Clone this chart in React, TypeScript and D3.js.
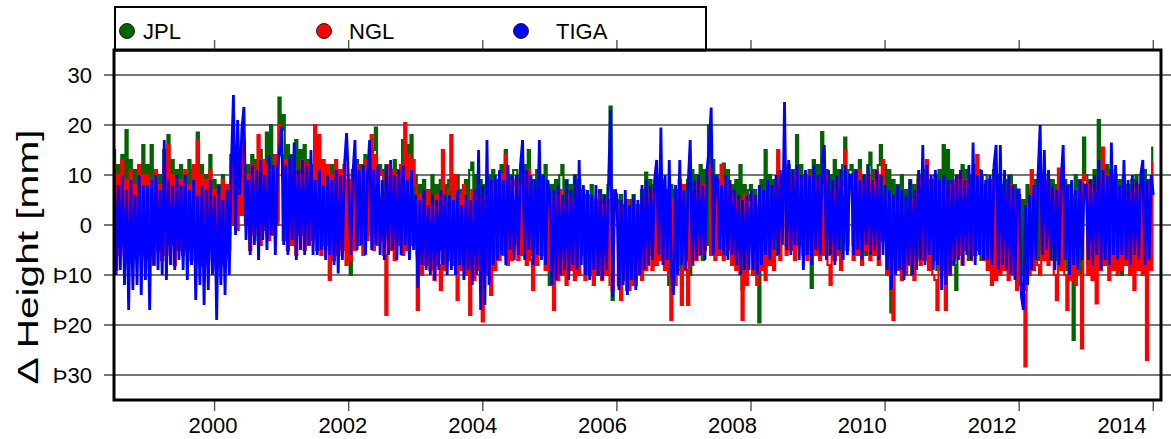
import React from "react";
import * as d3 from "d3";

// Values read every 1/32 yr from 1998.50 to 2014.00 (alternating upper/lower excursions of the dense series)
const START_YEAR = 1998.5;
const STEP_YEAR = 1 / 32;

const jpl = [
  15, -3, 12, -1, 14, -4, 19, -2, 13, -3, 11, -1, 12, -5, 16, -2,
  12, -2, 16, -3, 11, -1, 10, -4, 15, -2, 18, -3, 13, -2, 11, -1,
  12, -2, 10, -3, 13, -1, 11, -2, 18.5, -3, 12, -1, 10, -2, 14, -3,
  9, -5, 8, -4, 10, -3, 7, -2, 14, 3, 16, 2, 15, 4, 13, 1,
  12, -2, 14, 0, 13, -3, 15, 1, 12, 18.5, 2, 20, 3, 14, 1, 25.5,
  19, 22, 3, 16, 1, 14, -1, 17, 2, 15, 0, 16, -2, 13, 1, 12,
  10, -3, 12, -2, 11, -4, 9, -5, 12, -3, 10, -6, 11, -4, 9, -5,
  8, -10, 11, -2, 13, -1, 12, -3, 14, -2, 13, -1, 15, 19.5, -2, 12,
  11, -3, 12, -2, 10, -4, 13, -3, 11, -2, 17, -4, 16, -3, 18, -2,
  10, -6, 8, -5, 9, -7, 7, -4, 10, -6, 8, -5, 9, -7, 8, -4,
  9, -7, 8, -6, 10, -8, 7, -5, 9, -6, 11, 12.5, -7, 10, -5, 9,
  -5, 8, -6, 10, -4, 11, -7, 9, -5, 12, -3, 15, -6, 10, -4, 11,
  11, -4, 10, -5, 12, -3, 15, -6, 9, -4, 11, -5, 10, -3, 12, -7,
  -12, 8, -6, 9, -7, 10, 12, -8, 9, -6, 8, -7, 10, -5, 9, -6,
  7, -8, 6, -9, 8, -7, 5, -10, 7, -8, 6, -9, 8, 23.7, -15, 6,
  5, -12, 6, -10, 4, -13, 5, -11, 6, -12, 4, -10, 7, -9, 10.5, -8,
  9, -6, 8, -7, 10, -5, 9, -8, 7, -12, 8, -9, 7, -8, 9, -10,
  8, -7, 9, -10, 11, -6, 10, -5, 12, -7, 11, -4, 20, -6, 13, -5,
  10, -5, 9, 12.3, -6, 11, -4, 8, -7, 9, -6, 12, -13, 8, -9, 7,
  8, -9, 7, -8, -19.5, 9, -6, 15, -7, 10, -5, 9, -6, 11, -4, 10,
  10, -4, 12, -3, 11, -5, 18, -4, 12, -3, 10, -5, 11, -12.6, 13, -4,
  12, -5, 18.6, -4, 11, -6, 10, -5, 13, -3, 11, -6, 12, 17.5, -4, 11,
  12, -4, 11, -5, 13, -3, 10, -6, 12, 14.5, -4, 11, -5, 12, 16, -3,
  12, -8, 11, -17.5, 9, -7, 8, -9, 10, -8, 7, -6, 9, -10, 8, -7,
  10, -6, 11, -5, 12, -8, 9, -7, 10, -9, 11, -8, 16, -10, 15, -8,
  11, -8, -13, 10, -6, 12, -5, 11, -7, 10, -6, 12, -5, 11, -7, 10,
  10, -6, 9, -7, 11, -8, 10, -9, 8, -7, 9, -8, 10, -9, 8, -10,
  6, -10, 5, -13, 8, -8, 7, -6, 9, -7, 11, -5, 10, -6, 9, -7,
  9, -7, 8, -8, 10, -6, 9, -9, 8, -7, -23, 10, -8, 9, -10, 17.5,
  10, -8, 9, -7, 11, -9, 21, -6, 10, -8, 12, -7, 11, -9, 10, -6,
  9, -10, 10, -7, 8, -8, 9, -6, 10, -7, 8, -9, 11, -6, 9, -7, 15.5,
];

const ngl = [
  12, -9, 10, -6, 13, -4, 9, -7, 11, -5, 8, -3, 12, -6, 10, -4,
  10, -6, 9, -8, 11, -5, 8, -7, 12, -6, 16, -4, 10, -8, 9, -5,
  9, -6, 11, -5, 8, -7, 12, -4, 17, -8, 10, -6, 9, -7, 11, -5,
  7, -9, 6, -8, 9, -7, 8, -5, 12, 0, 15, -1, 13, 2, 17, 0,
  10, -5, 12, -2, 11, 18, -4, 13, -1, 12, -3, 11, -2, 14, 0, 20,
  14, -3, 13, -5, 11, -4, 12, -6, 10, -2, 13, -5, 12, -4, 9, -3,
  20, -5, 18, -6, 13, -4, 12, -11, 10, -7, 13, -6, 11, -5, 12, -8,
  9, -7, 10, -5, 12, -4, 11, -6, 13, -3, 12, 18, -5, 14, -4, 11,
  10, -6, -18, 12, -5, 11, -7, 10, -4, 12, -6, 20.4, -5, 14, -4, 13,
  8, -17, 6, -10, 5, -8, 7, -9, 4, -11, 6, -8, -13, 15, -9, 5,
  7, 18, -8, 10, -15, 6, -9, 8, -10, 5, -18, 7, -11, 6, -9, 5,
  -19.3, 6, -10, 7, -14, 8, -9, 6, -7, 10, -6, 14, -8, 9, -7, 8,
  9, -7, 8, -6, 10, -8, 11, -7, -13, 6, -8, 9, -6, 8, -9, 7,
  -9, 5, -17, 6, -11, 7, -10, 4, -12, 6, -9, 5, -11, 7, -10, 6,
  5, -11, 6, -10, 4, -12, 5, -9, 6, -11, 4, -10, 5, -12, -13, 7,
  4, -12, -15, 3, -11, 5, -13, 2, -12, 4, -10, 3, -11, 5, -9, 4,
  7, -9, 6, -8, 8, -7, 5, -9, 6, -10, -19, 5, -12, 6, -9, -16,
  8, -9, -16, 7, -8, 6, -7, 9, -6, 8, -5, 10, 12, -6, 9, -7,
  8, -6, 12, -7, 9, -5, 8, -8, 6, -9, 5, -10, -19, 6, -12, 5,
  6, -10, 5, -12, 4, -9, 6, -11, 7, -8, 5, -9, 8, 15, -7, 9,
  9, -6, 8, -5, 10, -7, 11, -4, 9, -6, 8, -7, 10, -5, 9, -6,
  9, -7, 8, -6, 10, -8, -12, 7, -7, 9, -6, -9, 8, 15, -5, 10,
  10, -7, 9, -6, 11, -8, 8, -5, 10, -7, 9, -6, 11, -8, 10, 13,
  5, -10, 6, -13, -19, 4, -9, 5, -11, 3, -10, 4, -8, 5, -11, 6,
  9, -8, 10, -7, 13, -9, 8, -10, -11, -17, 7, -9, 8, -17, 6, -10,
  8, -7, 9, -6, 10, -8, 9, -5, 8, -7, 9, -6, 14, -5, 10, -7,
  8, -9, 7, -12, 9, -11, 8, -10, 7, -9, 6, -11, 8, -10, 5, -13,
  5, -12, -14, -28.3, 4, -10, 11, -9, 7, -8, -10, 8, -7, 9, -8, 7,
  7, -10, -15, 11.3, -9, 8, -10, -17, 7, -11, 6, -12, 7, -10, -24.7, 10,
  9, -10, 8, -11, 7, -15.7, 9, -9, 15.5, -8, 10, -11, 8, -9, 9, -10,
  7, -9, 10, -8, 6, -10, 7, -13, 8, -9, 6, -10, 7, -27, 8, -9, 12.5,
];

const tiga = [
  11, -10, 8, -9, 10, -12, 7, -17, 9, -13, 6, -12, 10, -14, 8, -11,
  8, -17, 9, -8, 10, -9, 7, -10, 17, -11, 9, -8, 8, -9, 10, -7,
  8, -9, 10, -11, 7, -8, 9, -15, 6, -12, 8, -16, 7, -13, 9, -10,
  6, -19, 8, -12, 5, -14, 7, -10, 12, 26, -2, 21, 6, 19, 23.6, -3,
  9, -6, 12, -4, 11, -7, 13, -3, 10, -5, 14, -2, 12, -6, 11, 15,
  19.5, -4, 12, -6, 14, -3, 16.5, -7, 11, -5, 13, -6, 12, -4, 15, -6,
  9, -6, 11, -5, 8, -7, 10, -6, 9, -8, 11, -9.7, 10, -7, 12, 18.4,
  8, -6, 10, 17, -5, 11, -4, 12, -6, 10, 17, -5, 11, -4, 12, -6,
  9, -7, 12, -6, 13, -5, 10, -7, 11, -6, 12, -4, 9, -7, 11, -5,
  6, -12.6, 5, -8, 7, -9, 4, -10, 6, -11, 5, -9, 7, -8, 6, -10,
  6, -9, 5, -10, 7, -8, 4, -11, 6, -9, 5, -12, 7, -10, 15, -17,
  8, -16, 17, -12, 9, -8, 10, -7, 11, -6, 9, -8, 12, -5, 10, -7,
  10, -6, 12, 17, -7, 11, -5, 10, -8, 9, -6, 17, -7, 10, -8, 9,
  6, -12, 7, -11, 8, -10, 6, -9, 9, -11, 7, -8, 10, -9, 13, -8,
  8, -10, 7, -11, 6, -9, 8, -10, 7, -11, 6, -9, 8, 23, -14.5, 7,
  6, -13, 5, -12, 7, -14, 4, -11, 6, -13, 5, -10, 8, -9, 9, -8,
  8, -7, 9, 13, -6, 19.5, -8, 10, -7, 13, -9, -14, 8, -10, 13, -8,
  7, -9, 8, 17, -8, 9, -7, 10, -6, 8, -7, 11, 15, 23.5, -6, 10,
  9, -5, 8, -6, 10, -7, 9, -6, 7, -8, 6, -10, 5, -9, 6, -9,
  7, -9, 6, -10, 8, -8, 7, -6, 9, -7, 8, -5, 10, -6, 11, -4,
  24.6, -5, 13, -6, 11, -4, 12, -7, 10, -9, 11, -6, 10, -8, 12, -5,
  10, -6, 12, 16, -7, 11, -6, 9, -8, 10, -5, 11, -7, 12, -6, 10,
  10, -6, 11, -5, 9, -7, 10, -4, 12, -6, 9, -5, 11, -7, 10, -6,
  8, -9, 7, -13, 6, -10, 8, -9, 7, -11, 6, -8, 9, -10, 7, -9,
  11, -7, 16, -8, 12, -6, 10, -9, 11, -8, 9, -13, 10, -12, 9, -10,
  9, -8, 10, -7, 11, -8, 9, -6, 12, -7, 16.5, -8, 10, -6, 11, -7,
  9, -7, 10, -8, 12, 16, -9, 16, -8, 11, -9, 10, -10, 8, -11, 7,
  7, -14, -17, 4, -12, 6, -9, 8, -7, 10, 20, -6, 15, -5, 11, -7,
  8, -9, 7, -8, 9, 16, -7, 8, -10, 9, -8, 7, -9, 9, -7, 8,
  8, -7, 9, -8, 10, -6, 13, -9, 11, -7, 10, -8, 16.5, -6, 12, -7,
  8, -6, 13, -7, 9, -8, 10, -6, 9, -7, 10, 13, -8, 9, -7, 10, 6,
];

const seriesNames = ["JPL", "NGL", "TIGA"];
const seriesColors = ["#006400", "#ff0000", "#0000ff"];
const yTicks = [30, 20, 10, 0, -10, -20, -30];
const yTickLabels = ["30", "20", "10", "0", "\u00de10", "\u00de20", "\u00de30"];
const xTicks = [2000, 2002, 2004, 2006, 2008, 2010, 2012, 2014];
const yLabel = "\u0394 Height [mm]";

const W = 1171;
const H = 439;
const PL = 114;
const PR = 1161;
const PT = 50;
const PB = 400;

export default function App() {
  const x = d3.scaleLinear().domain([1998.5, 2014.115]).range([PL, PR]);
  // tick labels in the original drift slightly left of their ticks
  const xLabel = d3.scaleLinear().domain([2000, 2014]).range([213, 1122]);
  const y = d3.scaleLinear().domain([-35, 35]).range([PB, PT]);
  const allSeries = [jpl, ngl, tiga];
  const xAt = (_: number, i: number) => x(START_YEAR + i * STEP_YEAR);
  // daily solutions (JPL, NGL) render as a solid band; TIGA as a zig-zag line
  const bandLine = d3.line<number>().x(xAt).y((d) => y(d)).curve(d3.curveStep);
  const zigLine = d3.line<number>().x(xAt).y((d) => y(d));
  const gens = [bandLine, bandLine, zigLine];
  const widths = [2.2, 2.2, 2.8];

  const font = "'Liberation Sans', Arial, Helvetica, sans-serif";
  const legendX = [127, 324, 521];
  const legendTextX = [143, 349, 556];

  return (
    <svg
      width={W}
      height={H}
      style={{ position: "absolute", left: 0, top: 0, background: "#fff" }}
      fontFamily={font}
    >
      <defs>
        <clipPath id="plotclip">
          <rect x={PL} y={PT} width={PR - PL} height={PB - PT} />
        </clipPath>
      </defs>
      <rect x={0} y={0} width={W} height={H} fill="#fff" />

      {yTicks.map((t) => (
        <line
          key={"g" + t}
          x1={104}
          x2={W}
          y1={y(t)}
          y2={y(t)}
          stroke="#4a4a4a"
          strokeWidth={1.4}
        />
      ))}

      <g clipPath="url(#plotclip)">
        {allSeries.map((s, k) => (
          <path
            key={seriesNames[k]}
            d={gens[k](s) || ""}
            fill="none"
            stroke={seriesColors[k]}
            strokeWidth={widths[k]}
            strokeLinejoin="miter"
          />
        ))}
      </g>

      {xTicks.map((t) => (
        <g key={"x" + t}>
          <line x1={x(t)} x2={x(t)} y1={PB} y2={PB + 11} stroke="#555" strokeWidth={1.4} />
          <line x1={x(t)} x2={x(t)} y1={PT - 10} y2={PT} stroke="#555" strokeWidth={1.4} />
          <text x={xLabel(t)} y={433} fontSize={22} textAnchor="middle" fill="#000">
            {t}
          </text>
        </g>
      ))}

      {yTicks.map((t, i) => (
        <text
          key={"yl" + t}
          x={92}
          y={y(t) + 8}
          fontSize={22}
          textAnchor="end"
          fill="#000"
        >
          {yTickLabels[i]}
        </text>
      ))}

      <rect
        x={PL}
        y={PT}
        width={PR - PL}
        height={PB - PT}
        fill="none"
        stroke="#000"
        strokeWidth={3}
      />

      <text
        transform={`translate(38, 257) rotate(-90)`}
        fontSize={29}
        textAnchor="middle"
        fill="#000"
        textLength={255}
        lengthAdjust="spacingAndGlyphs"
      >
        {yLabel}
      </text>

      <rect x={115} y={7} width={591} height={43} fill="#fff" stroke="#000" strokeWidth={2} />
      {xTicks
        .filter((t) => x(t) > 115 && x(t) < 706)
        .map((t) => (
          <line key={"lt" + t} x1={x(t)} x2={x(t)} y1={PT - 10} y2={PT} stroke="#555" strokeWidth={1.4} />
        ))}
      <line x1={115} x2={706} y1={PT} y2={PT} stroke="#000" strokeWidth={3} />
      {seriesNames.map((n, k) => (
        <g key={"lg" + n}>
          <circle cx={legendX[k]} cy={31} r={7.5} fill={seriesColors[k]} stroke="#222" strokeWidth={1} />
          <text x={legendTextX[k]} y={39} fontSize={22} fill="#000">
            {n}
          </text>
        </g>
      ))}
    </svg>
  );
}
